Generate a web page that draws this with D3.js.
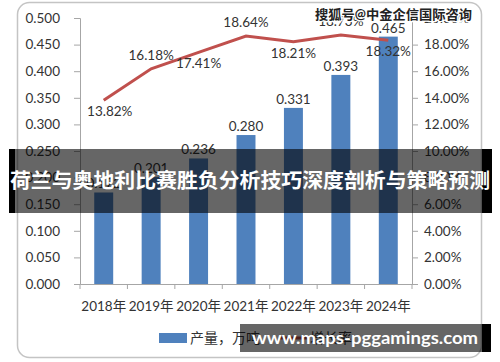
<!DOCTYPE html>
<html>
<head>
<meta charset="utf-8">
<script src="https://cdn.jsdelivr.net/npm/d3@7"></script>
<style>
  body { margin: 0; background: #fff; }
  svg text { font-family: Lato, "Noto Sans CJK SC", sans-serif; }
</style>
</head>
<body>
<div id="chart"></div>
<script>
var years = ["2018年", "2019年", "2020年", "2021年", "2022年", "2023年", "2024年"];
var output = [0.172, 0.201, 0.236, 0.280, 0.331, 0.393, 0.465];
var growth = [0.1382, 0.1618, 0.1741, 0.1864, 0.1821, 0.1873, 0.1832];
var leftTicks = [0, 0.05, 0.1, 0.15, 0.2, 0.25, 0.3, 0.35, 0.4, 0.45, 0.5];
var rightTicks = [0, 0.02, 0.04, 0.06, 0.08, 0.1, 0.12, 0.14, 0.16, 0.18, 0.2];
// which side of the point each growth label sits
var labelSide = [1, -1, 1, -1, 1, -1, 1];

var W = 500, H = 362;
var svg = d3.select("#chart").append("svg")
  .attr("width", W).attr("height", H);

// chart frame
svg.append("rect")
  .attr("x", 17.5).attr("y", 2.5)
  .attr("width", 464).attr("height", 355)
  .attr("rx", 12)
  .attr("fill", "#fff")
  .attr("stroke", "#c4c4c4")
  .attr("stroke-width", 1.5);

var x = d3.scaleBand().domain(years).range([80, 412])
  .paddingInner(0.6).paddingOuter(0.3);
var yL = d3.scaleLinear().domain([0, 0.5]).range([284, 18]);
var yR = d3.scaleLinear().domain([0, 0.2]).range([284, 18]);

//left axis
var gl = svg.append("g").attr("transform", "translate(80,0)")
  .call(d3.axisLeft(yL).tickValues(leftTicks).tickFormat(d3.format(".3f")).tickSize(6).tickPadding(14));
//right axis
var gr = svg.append("g").attr("transform", "translate(412,0)")
  .call(d3.axisRight(yR).tickValues(rightTicks).tickFormat(d3.format(".2%")).tickSize(6).tickPadding(6));
[gl, gr].forEach(function(g) {
  g.select(".domain").attr("stroke", "#a6a6a6");
  g.selectAll(".tick line").attr("stroke", "#a6a6a6");
  g.selectAll(".tick text").attr("fill", "#333").attr("font-size", 13.5);
});

//x axis
var gx = svg.append("g").attr("transform", "translate(0,284)")
  .call(d3.axisBottom(x).tickSize(0).tickPadding(17));
gx.select(".domain").attr("stroke", "#a6a6a6");
gx.selectAll(".tick text").attr("fill", "#333").attr("font-size", 13.5);
gx.selectAll(".sep")
  .data(d3.range(years.length + 1))
  .enter().append("line")
  .attr("x1", function(i) { return 80 + i * x.step(); })
  .attr("x2", function(i) { return 80 + i * x.step(); })
  .attr("y1", 0).attr("y2", 5)
  .attr("stroke", "#a6a6a6");

//bars
svg.selectAll(".bar")
  .data(output)
  .enter().append("rect")
  .attr("x", function(d, i) { return x(years[i]); })
  .attr("y", function(d) { return yL(d); })
  .attr("width", x.bandwidth())
  .attr("height", function(d) { return yL(0) - yL(d); })
  .attr("fill", "#4f81bd");

svg.selectAll(".barlabel")
  .data(output)
  .enter().append("text")
  .attr("x", function(d, i) { return x(years[i]) + x.bandwidth() / 2; })
  .attr("y", function(d) { return yL(d) - 4; })
  .attr("text-anchor", "middle")
  .attr("font-size", 13.5)
  .attr("fill", "#333")
  .text(function(d) { return d3.format(".3f")(d); });

//growth line
var line = d3.line()
  .x(function(d, i) { return x(years[i]) + x.bandwidth() / 2; })
  .y(function(d) { return yR(d); });
svg.append("path")
  .datum(growth)
  .attr("d", line)
  .attr("fill", "none")
  .attr("stroke", "#c0504d")
  .attr("stroke-width", 3);

svg.selectAll(".linelabel")
  .data(growth)
  .enter().append("text")
  .attr("x", function(d, i) { return x(years[i]) + x.bandwidth() / 2 + (i == 0 ? 6 : 0); })
  .attr("y", function(d, i) { return yR(d) + (labelSide[i] > 0 ? 16 : -9); })
  .attr("text-anchor", "middle")
  .attr("font-size", 13.5)
  .attr("fill", "#333")
  .text(function(d) { return d3.format(".2%")(d); });

//legend
svg.append("rect").attr("x", 159).attr("y", 333).attr("width", 28).attr("height", 10).attr("fill", "#4f81bd");
svg.append("text").attr("x", 190).attr("y", 343).attr("font-size", 14).attr("fill", "#333").text("产量，万吨");
svg.append("line").attr("x1", 280).attr("x2", 307).attr("y1", 338).attr("y2", 338)
  .attr("stroke", "#c0504d").attr("stroke-width", 3);
svg.append("text").attr("x", 310).attr("y", 343).attr("font-size", 14).attr("fill", "#333").text("增长率");

//top watermark
svg.append("text")
  .attr("x", 315).attr("y", 19)
  .attr("font-size", 13)
  .attr("font-weight", "bold")
  .attr("fill", "#222")
  .attr("stroke", "#fff").attr("stroke-width", 2.5)
  .attr("paint-order", "stroke")
  .attr("textLength", 157).attr("lengthAdjust", "spacingAndGlyphs")
  .text("搜狐号@中金企信国际咨询");

//banner (semi-transparent, black ends)
svg.append("rect").attr("x", 9).attr("y", 149).attr("width", 6).attr("height", 64).attr("fill", "#000");
svg.append("rect").attr("x", 482).attr("y", 149).attr("width", 10).attr("height", 64).attr("fill", "#000");
svg.append("rect").attr("x", 15).attr("y", 149).attr("width", 467).attr("height", 64).attr("fill", "#000").attr("opacity", 0.6);
svg.append("text")
  .attr("x", 250).attr("y", 188)
  .attr("text-anchor", "middle")
  .attr("font-family", "Noto Sans CJK SC")
  .attr("font-size", 20)
  .attr("font-weight", "bold")
  .attr("fill", "#fff")
  .attr("textLength", 480).attr("lengthAdjust", "spacingAndGlyphs")
  .text("荷兰与奥地利比赛胜负分析技巧深度剖析与策略预测");

//bottom watermark
svg.append("rect").attr("x", 482).attr("y", 324).attr("width", 9).attr("height", 28).attr("fill", "#000");
svg.append("rect").attr("x", 240).attr("y", 324).attr("width", 242).attr("height", 28).attr("fill", "#000").attr("opacity", 0.6);
svg.append("text")
  .attr("x", 252).attr("y", 344)
  .attr("font-family", "Open Sans")
  .attr("font-size", 17)
  .attr("font-weight", "bold")
  .attr("fill", "#fff")
  .attr("textLength", 226).attr("lengthAdjust", "spacingAndGlyphs")
  .text("www.maps-pggamings.com");
</script>
</body>
</html>
